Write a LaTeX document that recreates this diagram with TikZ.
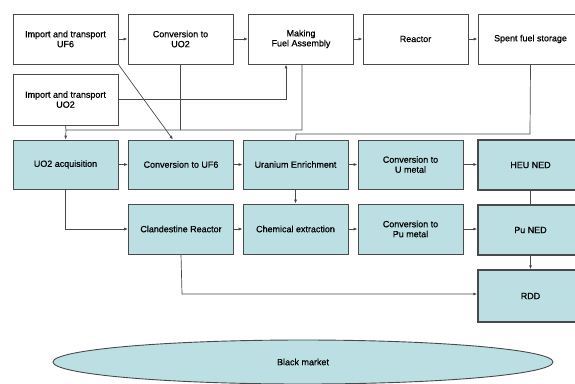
\documentclass[tikz,border=0pt]{standalone}
\usepackage{fontspec}
\setmainfont{Liberation Sans}
\newfontfamily\chartfont[FakeBold=0.6]{Liberation Sans}
\definecolor{boxTeal}{HTML}{BCDFE3}
\definecolor{edgeGray}{HTML}{4A4A4A}
\usetikzlibrary{arrows.meta, shapes.geometric}

\begin{document}
\begin{tikzpicture}[x=1bp, y=-1bp,
    stage/.style={draw=edgeGray, fill=white, line width=0.8bp, align=center, minimum width=105bp, minimum height=50bp,
                  inner sep=1bp, font=\chartfont\fontsize{9}{10}\selectfont},
    covert/.style={stage, fill=boxTeal},
    weapon/.style={covert, line width=1.5bp},
    flow/.style={-{Latex[length=4pt, width=3pt]}, edgeGray, line width=0.7bp},
    link/.style={edgeGray, line width=0.7bp}]
  \useasboundingbox (0,0) rectangle (575,383);
  % declared fuel cycle
  \node[stage] (impUF6) at (65.5,39) {Import and transport\\UF6};
  \node[stage] (convUO2) at (180.5,39) {Conversion to\\UO2};
  \node[stage] (fuelAsm) at (301,39) {Making\\Fuel Assembly};
  \node[stage] (reactor) at (415.5,39) {Reactor};
  \node[stage] (spent) at (530.5,39) {Spent fuel storage};
  \node[stage, minimum height=51bp] (impUO2) at (65.5,99.5) {Import and transport\\UO2};
  % clandestine route
  \node[covert, minimum height=49bp] (acquire) at (65.5,164.5) {UO2 acquisition};
  \node[covert, minimum height=49bp] (convUF6) at (181,164.5) {Conversion to UF6};
  \node[covert, minimum height=49bp] (enrich) at (295.5,164.5) {Uranium Enrichment};
  \node[covert, minimum height=49bp] (convU) at (410.5,164.5) {Conversion to\\U metal};
  \node[weapon] (heu) at (530.5,165) {HEU NED};
  \node[covert] (clanReact) at (181,229) {Clandestine Reactor};
  \node[covert] (chemExt) at (295.5,229) {Chemical extraction};
  \node[covert] (convPu) at (410.5,229) {Conversion to\\Pu metal};
  \node[weapon] (pu) at (530.5,230) {Pu NED};
  \node[weapon, minimum height=52bp] (rdd) at (530.5,296) {RDD};
  \node[ellipse, draw=edgeGray, fill=boxTeal, line width=0.9bp, minimum width=500bp, minimum height=44bp,
        font=\chartfont\fontsize{9}{10}\selectfont] (market) at (303,362) {Black market};

  \draw[flow] (impUF6) -- (convUO2);
  \draw[flow] (convUO2) -- (fuelAsm);
  \draw[flow] (fuelAsm) -- (reactor);
  \draw[flow] (reactor) -- (spent);
  \draw[flow] (impUO2.east) -- (impUO2.east -| 286,0) -- (fuelAsm.south -| 286,0);
  \draw[flow] (impUF6.south east) -- (convUF6.north -| 173,0);

  % feed lines into the covert chain
  \coordinate (busL) at (66,130);
  \draw[link] (convUO2.south) -- (convUO2.south |- busL);
  \draw[link] (impUO2.south) -- (busL);
  \draw[flow] (fuelAsm.south -| 302,0) -- (302,130) -- (busL) -- (acquire.north);
  \draw[link] (spent.south) -- (530,134) -- (296,134) -- (enrich.north);

  \draw[flow] (acquire) -- (convUF6);
  \draw[flow] (convUF6) -- (enrich);
  \draw[flow] (enrich) -- (convU);
  \draw[flow] (convU) -- (convU -| heu.west);
  \draw[flow] (acquire.south) |- (clanReact.west);
  \draw[flow] (clanReact) -- (chemExt);
  \draw[flow] (chemExt) -- (convPu);
  \draw[flow] (convPu) -- (convPu -| pu.west);
  \draw[flow] (enrich) -- (chemExt);
  \draw[link] (heu) -- (pu);
  \draw[flow] (pu) -- (rdd);
  \draw[flow] (clanReact.south) -- (182,294) -- (rdd.west |- 0,294);
\end{tikzpicture}
\end{document}
